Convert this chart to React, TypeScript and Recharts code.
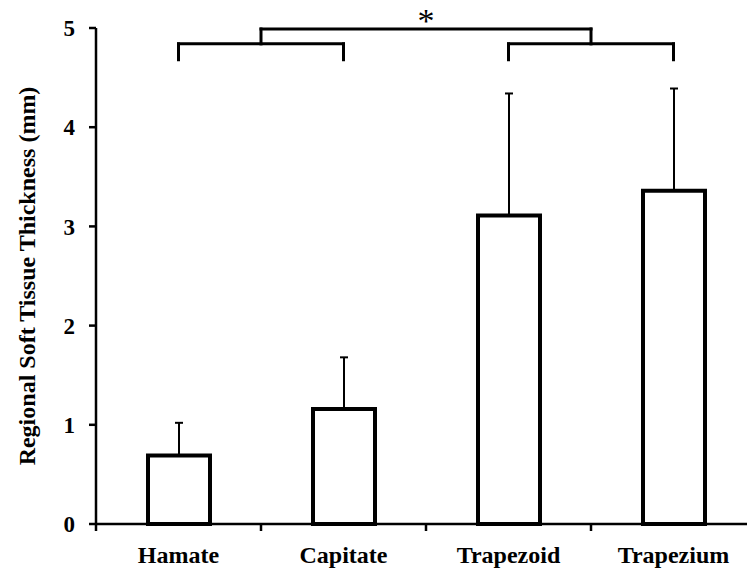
import React from 'react';
import { BarChart, Bar, XAxis, YAxis, ErrorBar, ReferenceLine } from 'recharts';

const categories = ['Hamate', 'Capitate', 'Trapezoid', 'Trapezium'];
const means = [0.69, 1.16, 3.11, 3.36];
const sds = [0.33, 0.52, 1.23, 1.03];
const yTicks = [0, 1, 2, 3, 4, 5];

// significance brackets (x in category units on a 0..4 numeric axis, y in mm)
const bracketLegLow = 4.68;
const bracketLevel = 4.84;
const bracketTop = 4.99;
const groupA = [0.5, 1.5];
const groupB = [2.5, 3.5];

const data = categories.map((name, i) => ({ name, pos: i + 0.5, mean: means[i], err: [0, sds[i]] }));

const FONT = '"Liberation Serif", "Times New Roman", serif';

const XTick = (props: any) => {
  const { x, y, payload } = props;
  const half = typeof payload?.offset === 'number' && payload.offset > 0 ? payload.offset : 82.5;
  return (
    <g>
      <line x1={x - half} y1={y - 7} x2={x - half} y2={y} stroke="#000" strokeWidth={2.5} />
      <text x={x} y={y + 32} textAnchor="middle" fontFamily={FONT} fontWeight="bold" fontSize={24} fill="#000">
        {payload.value}
      </text>
    </g>
  );
};

const seg = (x1: number, y1: number, x2: number, y2: number, key: string, label?: any) => (
  <ReferenceLine
    key={key}
    xAxisId="num"
    segment={[{ x: x1, y: y1 }, { x: x2, y: y2 }]}
    stroke="#000"
    strokeWidth={3}
    strokeLinecap="square"
    ifOverflow="visible"
    label={label}
  />
);

export default function App() {
  const midA = (groupA[0] + groupA[1]) / 2;
  const midB = (groupB[0] + groupB[1]) / 2;
  return (
    <div style={{ position: 'fixed', left: 0, top: 0, width: 747, height: 574, overflow: 'hidden', background: '#fff' }}>
      <BarChart
        width={760}
        height={574}
        data={data}
        margin={{ top: 28, right: 4, bottom: 0, left: 0 }}
        barCategoryGap={0}
        style={{ fontFamily: FONT }}
      >
        <XAxis
          xAxisId="cat"
          dataKey="name"
          height={50}
          axisLine={{ stroke: '#000', strokeWidth: 2.5 }}
          tickLine={false}
          tickSize={7}
          tickMargin={0}
          interval={0}
          tick={<XTick />}
        />
        <XAxis xAxisId="num" dataKey="pos" type="number" domain={[0, 4]} allowDataOverflow hide />
        <YAxis
          width={96}
          domain={[0, 5]}
          ticks={yTicks}
          interval={0}
          axisLine={{ stroke: '#000', strokeWidth: 2.5 }}
          tickLine={{ stroke: '#000', strokeWidth: 2.5 }}
          tickSize={7}
          tickMargin={14}
          tick={{ fill: '#000', fontSize: 23, fontWeight: 'bold', fontFamily: FONT }}
          label={{
            value: 'Regional Soft Tissue Thickness (mm)',
            angle: -90,
            position: 'center',
            dx: -21.5,
            fill: '#000',
            fontSize: 24,
            fontWeight: 'bold',
            fontFamily: FONT,
          }}
        />
        <Bar xAxisId="cat" dataKey="mean" fill="#fff" stroke="#000" strokeWidth={4} barSize={62} isAnimationActive={false}>
          <ErrorBar dataKey="err" width={4} stroke="#000" strokeWidth={2} direction="y" isAnimationActive={false} />
        </Bar>
        {seg(groupA[0], bracketLegLow, groupA[0], bracketLevel, 'a1')}
        {seg(groupA[0], bracketLevel, groupA[1], bracketLevel, 'a2')}
        {seg(groupA[1], bracketLevel, groupA[1], bracketLegLow, 'a3')}
        {seg(midA, bracketLevel, midA, bracketTop, 'a4')}
        {seg(groupB[0], bracketLegLow, groupB[0], bracketLevel, 'b1')}
        {seg(groupB[0], bracketLevel, groupB[1], bracketLevel, 'b2')}
        {seg(groupB[1], bracketLevel, groupB[1], bracketLegLow, 'b3')}
        {seg(midB, bracketLevel, midB, bracketTop, 'b4')}
        {seg(midA, bracketTop, midB, bracketTop, 'top', {
          value: '*',
          position: 'top',
          offset: -3,
          fill: '#000',
          fontSize: 34,
          fontFamily: FONT,
        })}
      </BarChart>
    </div>
  );
}
